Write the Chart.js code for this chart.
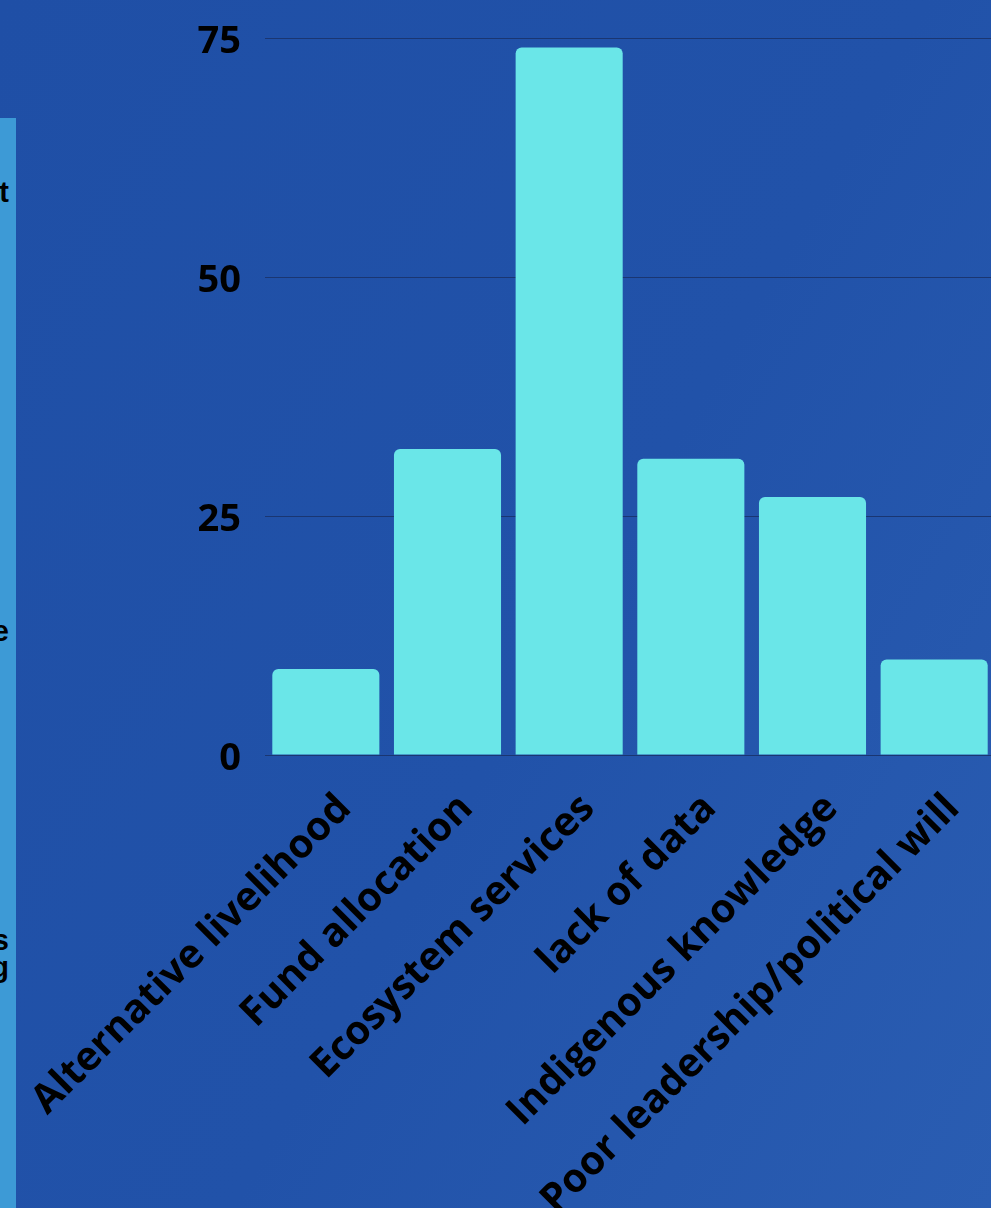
<!DOCTYPE html>
<html>
<head>
<meta charset="utf-8">
<script src="https://cdn.jsdelivr.net/npm/chart.js@4"></script>
<style>
  html, body { margin: 0; padding: 0; overflow: hidden; width: 991px; height: 1208px; }
  body {
    position: relative;
    background: linear-gradient(120deg, #1f4fa6 0%, #2152a9 55%, #2a5db2 100%);
  }
  #side {
    position: absolute; left: 0; top: 118px; width: 16px; height: 1090px;
    background: #3d9ad6; overflow: hidden;
    font-family: "Liberation Sans", Arial, sans-serif; font-weight: bold; font-size: 29px; color: #000;
  }
  #side span { position: absolute; right: 7px; }
  #myChart { position: absolute; left: 0; top: 0; }
</style>
</head>
<body>
<div id="side">
  <span style="top:58px">t</span>
  <span style="top:497px">e</span>
  <span style="top:806px">s</span>
  <span style="top:833px">g</span>
</div>
<canvas id="myChart" width="1000" height="1208"></canvas>
<script>
var categories = ["Alternative livelihood", "Fund allocation", "Ecosystem services", "lack of data", "Indigenous knowledge", "Poor leadership/political will"];
var counts = [9, 32, 74, 31, 27, 10];
var yTicks = [0, 25, 50, 75];

var chartdata = {
    labels: categories,
    datasets: [{
        label: "Count",
        data: counts,
        backgroundColor: "#6ae6e8",
        borderRadius: { topLeft: 6, topRight: 6 },
        borderSkipped: "start",
        categoryPercentage: 1,
        barPercentage: 0.88
    }]
};

var ctx = document.getElementById("myChart");

var BarGraph = new Chart(ctx, {
    type: 'bar',
    data: chartdata,
    options: {
        responsive: false,
        animation: false,
        devicePixelRatio: 1,
        layout: { padding: { top: 38, right: 5, left: 0, bottom: 0 } },
        plugins: {
            legend: { display: false },
            tooltip: { enabled: false }
        },
        scales: {
            x: {
                grid: { display: false, drawTicks: false },
                border: { display: false },
                ticks: {
                    autoSkip: false,
                    minRotation: 45,
                    maxRotation: 45,
                    padding: 30,
                    labelOffset: 19,
                    color: "#000",
                    font: { family: "'Open Sans'", weight: "bold", size: 40 }
                },
                afterFit: function(scale) {
                    scale.height = 453;
                    scale.paddingLeft = 0;
                    scale.paddingRight = 0;
                }
            },
            y: {
                min: 0,
                max: 75,
                afterBuildTicks: function(scale) {
                    scale.ticks = yTicks.map(function(v) { return { value: v }; });
                },
                grid: { color: "#1a3672", lineWidth: 1, drawTicks: false },
                border: { display: false },
                ticks: {
                    padding: 24,
                    labelOffset: 4,
                    color: "#000",
                    font: { family: "'Open Sans'", weight: "bold", size: 38 }
                },
                afterFit: function(scale) {
                    scale.width = 265;
                    scale.paddingTop = 0;
                    scale.paddingBottom = 0;
                }
            }
        }
    }
});
</script>
</body>
</html>
